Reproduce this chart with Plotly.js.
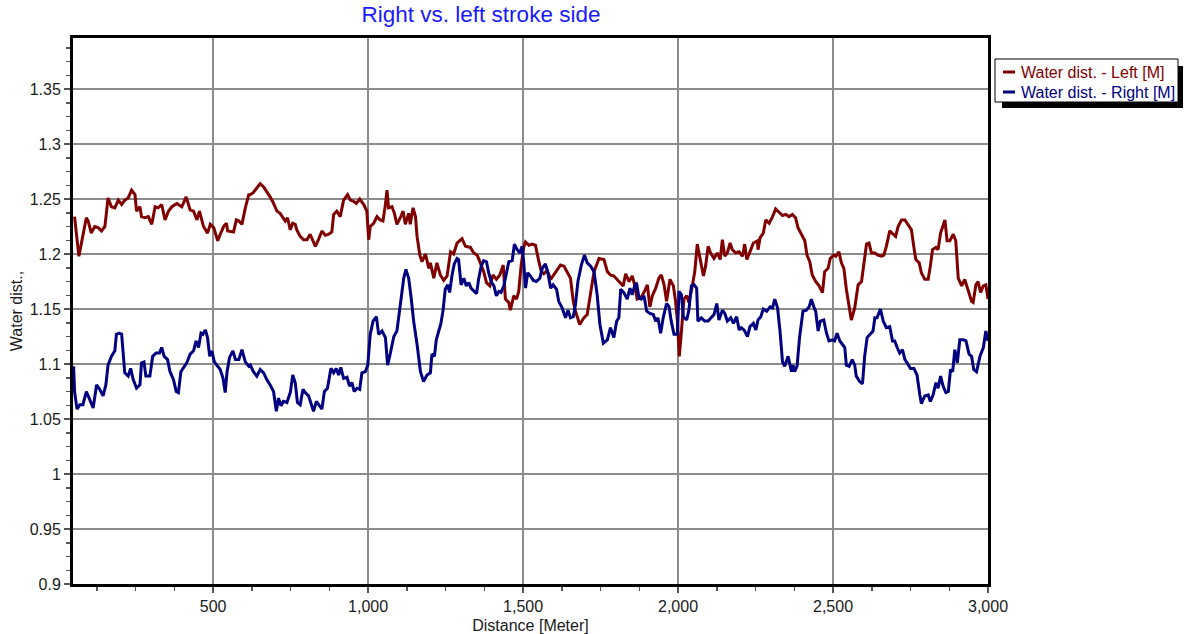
<!DOCTYPE html>
<html>
<head>
<meta charset="utf-8">
<script src="https://cdn.plot.ly/plotly-3.0.1.min.js"></script>
<style>html,body{margin:0;padding:0;background:#fff;}#chart{width:1184px;height:634px;}</style>
</head>
<body>
<div id="chart"></div>
<script>
// ---- data ----
const leftDist = [53,67,91,97,107,118,129,140,151,161,172,183,194,205,215,226,237,248,253,264,269,280,291,302,313,323,334,345,356,367,383,399,413,426,437,448,456,469,482,491,502,515,523,534,543,547,566,575,583,593,604,615,
620,630,641,652,663,673,684,695,706,716,725,733,740,749,757,765,770,781,792,803,813,822,830,840,851,862,873,883,889,899,910,921,934,943,953,962,973,986,996,1002,1007,1018,1029,1039,1048,1056,1061,1066,1077,1085,1093,1104,1113,1120,1131,1136,1145,1153,1158,1167,1174,1185,1196,
1201,1212,1222,1233,1244,1255,1266,1276,1287,1303,1314,1330,1341,1352,1362,1373,1382,1393,1403,1414,1425,1436,1443,1454,1459,1470,1479,1486,1494,1502,1508,1519,1529,1540,1551,1559,1567,1578,1589,1605,1621,1632,1642,1653,1662,1669,1683,1696,1707,1718,1729,1745,1761,1772,
1782,1793,1804,1815,1823,1831,1842,1852,1860,1868,1879,1890,1901,1909,1917,1928,1938,1946,1955,1963,1974,1985,1992,1998,2004,2011,2019,2028,2035,2046,2054,2062,2071,2082,2089,2097,2105,2116,2127,2136,2143,2151,2159,2168,2175,2186,2197,2208,2215,2222,2232,2243,2256,2258,2265,2275,2283,2294,2305,2315,2326,2337,2348,2358,2369,
2379,2387,2398,2409,2416,2425,2433,2444,2455,2466,2473,2484,2491,2502,2509,2519,2527,2535,2543,2552,2559,2570,2581,2592,2599,2608,2616,2624,2635,2645,2656,2664,2672,2683,2694,2702,2710,2721,2732,2742,2753,2761,2767,2778,2785,2796,2807,2814,2821,2832,2839,2847,2853,2861,2868,2877,2888,2896,2904,2915,2925,2936,2947,2952,2961,2968,2976,2985,2993,3000];
const leftWater = [1.234,1.198,1.233,1.230,1.219,1.225,1.224,1.221,1.225,1.251,1.243,1.242,1.249,1.245,1.249,1.251,1.258,1.254,1.239,1.243,1.234,1.233,1.234,1.227,1.243,1.242,1.245,1.231,1.239,1.243,1.246,1.243,1.252,1.240,1.239,1.231,1.239,1.225,1.219,1.227,1.224,1.212,1.218,1.225,1.228,1.221,1.220,1.231,1.230,1.227,1.242,1.254,
1.254,1.256,1.260,1.264,1.261,1.257,1.252,1.246,1.239,1.237,1.233,1.230,1.233,1.222,1.228,1.227,1.222,1.216,1.213,1.213,1.218,1.212,1.207,1.213,1.221,1.217,1.218,1.220,1.236,1.239,1.234,1.249,1.254,1.249,1.248,1.246,1.250,1.245,1.239,1.213,1.225,1.228,1.234,1.231,1.230,1.245,1.258,1.242,1.243,1.237,1.227,1.233,1.239,1.227,1.237,1.227,1.242,1.234,1.216,1.199,1.193,1.200,1.187,
1.192,1.178,1.192,1.181,1.176,1.180,1.202,1.200,1.210,1.214,1.207,1.206,1.201,1.199,1.192,1.184,1.174,1.171,1.181,1.177,1.181,1.190,1.159,1.156,1.149,1.162,1.159,1.166,1.190,1.206,1.211,1.208,1.209,1.208,1.193,1.184,1.182,1.185,1.177,1.183,1.190,1.189,1.184,1.178,1.157,1.148,1.136,1.142,1.145,1.165,1.184,1.196,1.195,1.184,
1.181,1.180,1.177,1.174,1.171,1.182,1.175,1.180,1.172,1.159,1.160,1.165,1.172,1.152,1.162,1.169,1.178,1.181,1.172,1.157,1.177,1.171,1.157,1.139,1.107,1.130,1.159,1.162,1.156,1.171,1.184,1.209,1.196,1.180,1.189,1.207,1.201,1.196,1.201,1.195,1.213,1.198,1.201,1.210,1.204,1.201,1.202,1.198,1.209,1.195,1.202,1.210,1.212,1.204,1.215,1.219,1.231,1.228,1.234,1.241,1.238,1.235,1.236,1.234,1.236,
1.233,1.224,1.218,1.212,1.199,1.193,1.181,1.175,1.171,1.165,1.184,1.187,1.196,1.199,1.198,1.202,1.192,1.187,1.168,1.151,1.140,1.151,1.172,1.175,1.192,1.209,1.210,1.201,1.201,1.199,1.198,1.199,1.207,1.221,1.218,1.216,1.225,1.231,1.231,1.227,1.222,1.206,1.195,1.192,1.183,1.177,1.177,1.189,1.204,1.206,1.204,1.219,1.225,1.231,1.212,1.212,1.218,1.212,1.178,1.171,1.177,1.168,1.157,1.156,1.172,1.175,1.165,1.171,1.172,1.159];

const rightDist = [50,53,61,70,80,91,100,113,124,134,145,154,161,172,183,188,197,205,215,226,234,242,253,264,269,277,283,296,305,316,327,334,342,353,361,372,381,388,396,404,415,426,437,445,453,461,467,475,482,489,496,504,512,523,532,539,545,553,564,572,583,593,604,615,
620,630,641,652,663,673,684,695,704,711,719,727,738,749,757,765,772,781,790,797,808,816,824,833,840,851,859,869,880,889,897,905,912,921,932,940,948,955,964,973,980,991,999,1007,1016,1027,1034,1045,1056,1063,1072,1083,1093,1104,1115,1122,1131,1139,1147,1158,1169,1179,1190,
1201,1206,1214,1220,1228,1235,1242,1249,1257,1263,1271,1278,1287,1292,1300,1309,1317,1325,1332,1341,1350,1357,1365,1373,1382,1389,1397,1406,1414,1422,1429,1438,1446,1454,1465,1472,1481,1489,1497,1502,1508,1515,1524,1533,1543,1554,1562,1572,1580,1589,1597,1608,1615,1626,1637,1645,1653,1662,1669,1677,1688,1698,1707,1718,1729,1739,1748,1759,1772,
1782,1793,1802,1809,1815,1825,1836,1845,1852,1860,1866,1874,1881,1890,1899,1909,1920,1928,1935,1944,1952,1963,1971,1978,1987,1998,2003,2011,2017,2028,2035,2043,2052,2060,2064,2075,2086,2097,2105,2116,2125,2132,2143,2151,2159,2170,2179,2189,2197,2204,2213,2224,2232,2243,2251,2258,2267,2275,2286,2297,2305,2312,2321,2329,2337,2344,2355,2366,
2371,2376,2384,2392,2403,2414,2423,2430,2438,2444,2452,2459,2470,2479,2487,2498,2505,2513,2522,2530,2538,2543,2552,2562,2570,2575,2586,2595,2602,2610,2621,2629,2635,2642,2653,2662,2672,2683,2692,2699,2707,2715,2724,2732,2739,2750,2761,2771,2780,2785,2796,2807,2814,2823,2832,2839,2847,2855,2864,2872,2879,2886,2893,2901,2909,2920,2929,2939,2947,2954,2963,2974,2985,2993,3000];
const rightWater = [1.098,1.075,1.059,1.063,1.063,1.075,1.069,1.060,1.081,1.077,1.071,1.081,1.099,1.107,1.112,1.127,1.128,1.127,1.092,1.089,1.096,1.086,1.078,1.081,1.101,1.102,1.089,1.089,1.107,1.110,1.110,1.115,1.107,1.104,1.093,1.086,1.075,1.074,1.093,1.096,1.101,1.109,1.112,1.121,1.115,1.128,1.127,1.131,1.124,1.107,1.112,1.102,1.099,1.095,1.087,1.074,1.093,1.106,1.112,1.104,1.104,1.113,1.102,1.098,
1.099,1.093,1.089,1.095,1.092,1.086,1.081,1.075,1.057,1.069,1.062,1.066,1.065,1.074,1.090,1.083,1.065,1.063,1.077,1.074,1.071,1.063,1.057,1.066,1.063,1.059,1.075,1.078,1.096,1.092,1.096,1.090,1.097,1.087,1.088,1.080,1.083,1.075,1.078,1.077,1.092,1.093,1.099,1.127,1.139,1.143,1.127,1.130,1.124,1.099,1.110,1.125,1.130,1.152,1.178,1.186,1.178,1.160,1.139,1.118,1.093,1.084,1.090,
1.092,1.109,1.107,1.122,1.130,1.137,1.149,1.168,1.172,1.165,1.181,1.191,1.196,1.195,1.172,1.178,1.171,1.174,1.169,1.166,1.164,1.178,1.189,1.194,1.193,1.183,1.175,1.171,1.162,1.166,1.165,1.171,1.183,1.193,1.194,1.209,1.204,1.201,1.207,1.193,1.169,1.183,1.180,1.176,1.175,1.178,1.187,1.191,1.183,1.169,1.172,1.168,1.157,1.151,1.142,1.149,1.142,1.143,1.154,1.175,1.190,1.199,1.192,1.189,1.184,1.163,1.136,1.119,1.122,
1.133,1.124,1.139,1.142,1.168,1.165,1.159,1.169,1.163,1.171,1.174,1.160,1.159,1.162,1.148,1.146,1.145,1.139,1.142,1.128,1.142,1.155,1.152,1.139,1.127,1.127,1.166,1.163,1.143,1.140,1.149,1.171,1.172,1.169,1.139,1.142,1.139,1.139,1.142,1.145,1.155,1.140,1.149,1.146,1.139,1.142,1.137,1.143,1.131,1.133,1.131,1.125,1.134,1.137,1.131,1.140,1.143,1.150,1.148,1.152,1.151,1.159,1.151,1.130,1.102,1.098,1.107,1.093,
1.099,1.093,1.098,1.124,1.148,1.149,1.152,1.159,1.152,1.148,1.130,1.139,1.140,1.128,1.121,1.122,1.121,1.128,1.121,1.118,1.115,1.099,1.098,1.104,1.099,1.089,1.084,1.082,1.107,1.124,1.127,1.130,1.142,1.142,1.150,1.139,1.133,1.134,1.121,1.121,1.115,1.110,1.113,1.104,1.101,1.096,1.096,1.090,1.072,1.064,1.071,1.072,1.066,1.072,1.083,1.078,1.089,1.080,1.074,1.075,1.095,1.093,1.113,1.101,1.122,1.122,1.121,1.109,1.107,1.095,1.093,1.107,1.115,1.130,1.121];

const seriesNames = ['Water dist. - Left [M]', 'Water dist. - Right [M]'];
const xTickVals = [500, 1000, 1500, 2000, 2500, 3000];
const chartTitle = 'Right vs. left stroke side';
const xTitle = 'Distance [Meter]';
const yTitle = 'Water dist.,';

// ---- styling / layout ----
const W = 1184, H = 634, ML = 73, MR = 196, MT = 38, MB = 50;
const PW = W - ML - MR, PH = H - MT - MB;
const xp = px => (px - ML) / PW;
const yp = py => (H - MB - py) / PH;
const RED = '#800000', BLUE = '#000080';
const FONT = 'Liberation Sans, Arial, sans-serif';

const traces = [
  {x: leftDist, y: leftWater, name: seriesNames[0], type: 'scatter', mode: 'lines',
   line: {color: RED, width: 3}, showlegend: false},
  {x: rightDist, y: rightWater, name: seriesNames[1], type: 'scatter', mode: 'lines',
   line: {color: BLUE, width: 3}, showlegend: false}
];

const axisCommon = {
  showline: true, linecolor: '#000', linewidth: 3, mirror: true,
  showgrid: true, gridcolor: '#8c8c8c', gridwidth: 1.5,
  ticks: 'outside', ticklen: 6, tickwidth: 1.5, tickcolor: '#555',
  tickfont: {family: FONT, size: 16, color: '#1a1a1a'},
  zeroline: false, automargin: false, fixedrange: true
};

const layout = {
  width: W, height: H,
  margin: {l: ML, r: MR, t: MT, b: MB, pad: 0},
  paper_bgcolor: '#fff', plot_bgcolor: '#fff',
  font: {family: FONT, size: 16, color: '#1a1a1a'},
  title: {text: chartTitle, font: {family: FONT, size: 22.5, color: '#1a1aff'},
          x: 481 / W, xref: 'container', xanchor: 'center', y: 1 - 14 / H, yanchor: 'middle'},
  xaxis: Object.assign({}, axisCommon, {
    range: [48, 3000], tickmode: 'array', tickvals: xTickVals, tickformat: ',d',
    minor: {dtick: 125, tick0: 0, ticks: 'outside', ticklen: 4, tickwidth: 1.5, tickcolor: '#555', showgrid: false},
    title: {text: xTitle, font: {family: FONT, size: 16, color: '#1a1a1a'}, standoff: 6}
  }),
  yaxis: Object.assign({}, axisCommon, {
    range: [0.9, 1.3964], tick0: 0.9, dtick: 0.05,
    minor: {dtick: 0.0125, tick0: 0.9, ticks: 'outside', ticklen: 4, tickwidth: 1.5, tickcolor: '#555', showgrid: false},
    title: {text: yTitle, font: {family: FONT, size: 16, color: '#1a1a1a'}, standoff: 4}
  }),
  showlegend: false,
  shapes: [
    {type: 'rect', xref: 'paper', yref: 'paper', x0: xp(1002), x1: xp(1183), y0: yp(108), y1: yp(66),
     fillcolor: '#000', line: {width: 0}},
    {type: 'rect', xref: 'paper', yref: 'paper', x0: xp(995), x1: xp(1178), y0: yp(102), y1: yp(59),
     fillcolor: '#fff', line: {color: '#000', width: 1}},
    {type: 'line', xref: 'paper', yref: 'paper', x0: xp(1003), x1: xp(1015), y0: yp(72), y1: yp(72),
     line: {color: RED, width: 3}},
    {type: 'line', xref: 'paper', yref: 'paper', x0: xp(1003), x1: xp(1015), y0: yp(92), y1: yp(92),
     line: {color: BLUE, width: 3}}
  ],
  annotations: [
    {text: seriesNames[0], xref: 'paper', yref: 'paper', x: xp(1019), y: yp(72), xanchor: 'left', yanchor: 'middle',
     showarrow: false, font: {family: FONT, size: 16, color: RED}},
    {text: seriesNames[1], xref: 'paper', yref: 'paper', x: xp(1019), y: yp(92), xanchor: 'left', yanchor: 'middle',
     showarrow: false, font: {family: FONT, size: 16, color: BLUE}}
  ]
};

Plotly.newPlot('chart', traces, layout, {displayModeBar: false, staticPlot: true});
</script>
</body>
</html>
